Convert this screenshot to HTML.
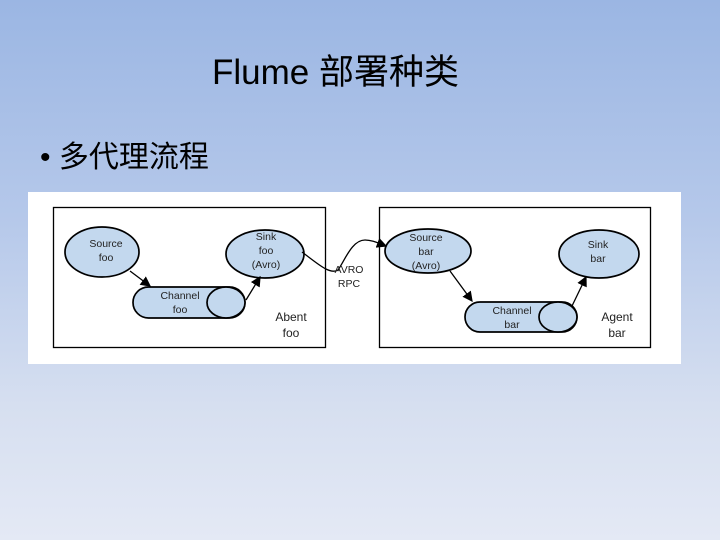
<!DOCTYPE html>
<html><head><meta charset="utf-8"><style>
body{margin:0;width:720px;height:540px;overflow:hidden;background:linear-gradient(#9bb6e3,#b5c8ea 40%,#d6dff0 75%,#e4e9f5);font-family:"Liberation Sans","Noto Sans CJK SC",sans-serif;position:relative}
.t{position:absolute;left:212px;top:44px;font-size:35px;color:#000;white-space:nowrap}
.b{position:absolute;left:40px;top:132px;font-size:30px;color:#000;white-space:nowrap}
svg{position:absolute;left:0;top:0}
text{font-family:"Liberation Sans",sans-serif;font-size:10.5px;fill:#222;text-anchor:middle}
</style></head><body>
<div class="t">Flume 部署种类</div>
<div class="b">• 多代理流程</div>
<svg width="720" height="540">
<defs><marker id="a" markerWidth="8" markerHeight="8" refX="7" refY="4" orient="auto"><path d="M0,0 L8,4 L0,8z" fill="#000"/></marker></defs>
<rect x="28" y="192" width="653" height="172" fill="#fff"/>
<rect x="53.5" y="207.5" width="272" height="140" fill="none" stroke="#000" stroke-width="1.3"/>
<rect x="379.5" y="207.5" width="271" height="140" fill="none" stroke="#000" stroke-width="1.3"/>
<g fill="#c3d8ee" stroke="#000" stroke-width="1.7">
<ellipse cx="102" cy="252" rx="37" ry="25"/>
<ellipse cx="265" cy="254" rx="39" ry="24"/>
<rect x="133" y="287" width="112" height="31" rx="15.5"/>
<ellipse cx="226" cy="302.5" rx="19" ry="15.5"/>
<ellipse cx="428" cy="251" rx="43" ry="22"/>
<ellipse cx="599" cy="254" rx="40" ry="24"/>
<rect x="465" y="302" width="112" height="30" rx="15"/>
<ellipse cx="558" cy="317" rx="19" ry="15"/>
</g>
<g stroke="#000" stroke-width="1.3" fill="none" marker-end="url(#a)">
<line x1="130" y1="271" x2="150" y2="286"/>
<line x1="246" y1="300" x2="260" y2="277"/>
<line x1="450" y1="271" x2="472" y2="301"/>
<line x1="572" y1="306" x2="586" y2="277"/>
<path d="M302,252 C318,264 330,275 338,270 C345,260 352,240 365,240 C372,240 378,243 386,246"/>
</g>
<text x="106" y="247">Source</text><text x="106" y="261">foo</text>
<text x="266" y="240">Sink</text><text x="266" y="254">foo</text><text x="266" y="268">(Avro)</text>
<text x="180" y="299">Channel</text><text x="180" y="313">foo</text>
<text x="291" y="321" style="font-size:12px">Abent</text><text x="291" y="337" style="font-size:12px">foo</text>
<text x="349" y="273">AVRO</text><text x="349" y="287">RPC</text>
<text x="426" y="241">Source</text><text x="426" y="255">bar</text><text x="426" y="269">(Avro)</text>
<text x="598" y="248">Sink</text><text x="598" y="262">bar</text>
<text x="512" y="314">Channel</text><text x="512" y="328">bar</text>
<text x="617" y="321" style="font-size:12px">Agent</text><text x="617" y="337" style="font-size:12px">bar</text>
</svg>
</body></html>
